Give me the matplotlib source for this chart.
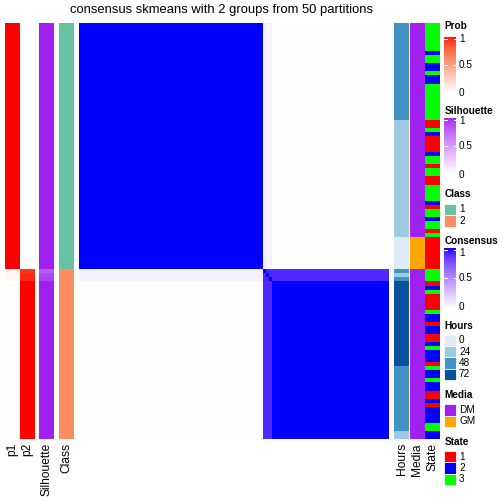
import numpy as np
import matplotlib
matplotlib.use("Agg")
import matplotlib.pyplot as plt
from matplotlib.colors import ListedColormap
from matplotlib.patches import Rectangle

plt.rcParams['font.family'] = ['Liberation Sans', 'DejaVu Sans']

# ---------------- data ----------------
title = "consensus skmeans with 2 groups from 50 partitions"

n_class1 = 61
n_class2 = 42
classes = [1] * n_class1 + [2] * n_class2

p1 = [1.0] * 61 + [0.08, 0.05, 0.05] + [0.0] * 39
p2 = [0.0] * 61 + [0.92, 0.95, 0.95] + [1.0] * 39
silhouette = [1.0] * 61 + [0.80, 0.88, 0.90] + [1.0] * 39

hours = ([48] * 24 + [24] * 29 + [0] * 8 +
         [48, 24, 48] + [72] * 21 + [48] * 16 + [24] * 2)
media = ["DM"] * 53 + ["GM"] * 8 + ["DM"] * 42

def runs(seq):
    out = []
    for v, k in seq:
        out += [v] * k
    return out

state = runs([(3, 7), (2, 1), (3, 2), (2, 2), (3, 1), (2, 2), (3, 9),
              (1, 2), (3, 1), (2, 1), (1, 4), (2, 1), (3, 2), (1, 1), (3, 2),
              (1, 2), (3, 4), (2, 1), (1, 1), (3, 2), (2, 1), (3, 2), (1, 1),
              (3, 1), (1, 8),
              (3, 3),
              (1, 1), (2, 1), (3, 1), (1, 4), (3, 1), (2, 2), (1, 1), (2, 2),
              (1, 2), (2, 1), (3, 1), (2, 3), (1, 1),
              (3, 1), (2, 2), (3, 1), (2, 2), (1, 2), (2, 1), (1, 1), (2, 4),
              (3, 2),
              (2, 2)])

# samples of class 2 with weaker consensus
uncertain_idx = [61, 62, 63]
cons_same = 1.0
cons_uncertain_other_class = 0.06
cons_uncertain_same_class = 0.90

legend_ticks = [0, 0.5, 1]
class_levels = [1, 2]
hours_levels = [0, 24, 48, 72]
media_levels = ["DM", "GM"]
state_levels = [1, 2, 3]

# ---------------- colours ----------------
def srgb_to_lab(rgb):
    rgb = np.asarray(rgb, float)
    lin = np.where(rgb <= 0.04045, rgb / 12.92, ((rgb + 0.055) / 1.055) ** 2.4)
    M = np.array([[0.4124564, 0.3575761, 0.1804375],
                  [0.2126729, 0.7151522, 0.0721750],
                  [0.0193339, 0.1191920, 0.9503041]])
    xyz = M @ lin / np.array([0.95047, 1.0, 1.08883])
    d = 6 / 29
    f = np.where(xyz > d ** 3, np.cbrt(xyz), xyz / (3 * d * d) + 4 / 29)
    return np.array([116 * f[1] - 16, 500 * (f[0] - f[1]), 200 * (f[1] - f[2])])

def lab_to_srgb(lab):
    L, a, b = lab
    fy = (L + 16) / 116
    fx = fy + a / 500
    fz = fy - b / 200
    d = 6 / 29
    finv = lambda t: t ** 3 if t > d else 3 * d * d * (t - 4 / 29)
    xyz = np.array([finv(fx), finv(fy), finv(fz)]) * np.array([0.95047, 1.0, 1.08883])
    Minv = np.array([[3.2404542, -1.5371385, -0.4985314],
                     [-0.9692660, 1.8760108, 0.0415560],
                     [0.0556434, -0.2040259, 1.0572252]])
    lin = np.clip(Minv @ xyz, 0, 1)
    rgb = np.where(lin <= 0.0031308, 12.92 * lin, 1.055 * lin ** (1 / 2.4) - 0.055)
    return np.clip(rgb, 0, 1)

def lab_cmap(c1, c2):
    from matplotlib.colors import to_rgb
    l1, l2 = srgb_to_lab(to_rgb(c1)), srgb_to_lab(to_rgb(c2))
    cols = [lab_to_srgb(l1 + (l2 - l1) * t) for t in np.linspace(0, 1, 256)]
    return ListedColormap(cols)

cmap_prob = lab_cmap("white", "#FF0000")
cmap_sil = lab_cmap("white", "#A020F0")
cmap_cons = lab_cmap("white", "#0000FF")

class_colors = {1: "#66C2A5", 2: "#FC8D62"}
hours_colors = {0: "#DEEBF7", 24: "#9ECAE1", 48: "#4292C6", 72: "#08519C"}
media_colors = {"DM": "#A020F0", "GM": "#FFA500"}
state_colors = {1: "#FF0000", 2: "#0000FF", 3: "#00FF00"}

# ---------------- consensus matrix ----------------
cls = np.array(classes)
cons = np.where(cls[:, None] == cls[None, :], cons_same, 0.0)
for u in uncertain_idx:
    other = cls != cls[u]
    same = cls == cls[u]
    cons[u, other] = cons_uncertain_other_class
    cons[other, u] = cons_uncertain_other_class
    cons[u, same] = cons_uncertain_same_class
    cons[same, u] = cons_uncertain_same_class
for u in uncertain_idx:
    cons[u, u] = cons_same

# ---------------- figure ----------------
W = H = 504
fig = plt.figure(figsize=(W / 72, H / 72), dpi=72)

def px_axes(x0, y0, x1, y1):
    ax = fig.add_axes([x0 / W, 1 - y1 / H, (x1 - x0) / W, (y1 - y0) / H])
    ax.set_axis_off()
    return ax

top, bot = 23, 439

def cont_col(x0, x1, vals, cmap):
    ax = px_axes(x0, top, x1, bot)
    ax.imshow(np.array(vals)[:, None], cmap=cmap, vmin=0, vmax=1,
              aspect="auto", interpolation="nearest")

def cat_col(x0, x1, vals, cmapping):
    from matplotlib.colors import to_rgb
    ax = px_axes(x0, top, x1, bot)
    img = np.array([to_rgb(cmapping[v]) for v in vals])[:, None, :]
    ax.imshow(img, aspect="auto", interpolation="nearest")

cont_col(5, 20, p1, cmap_prob)
cont_col(20, 34.5, p2, cmap_prob)
cont_col(39, 54, silhouette, cmap_sil)
cat_col(59, 74, classes, class_colors)

axc = px_axes(79, top, 389, bot)
axc.imshow(cons, cmap=cmap_cons, vmin=0, vmax=1, aspect="auto",
           interpolation="nearest")

cat_col(394, 409, hours, hours_colors)
cat_col(409.8, 424.3, media, media_colors)
cat_col(425, 439.5, state, state_colors)

# colour bar legends: name, title y, bar top, bar bottom, top label y
cbars = [("Prob", 26.3, 37, 92.5, 38.8, cmap_prob),
         ("Silhouette", 110.5, 118, 174.5, 121.5, cmap_sil),
         ("Consensus", 240.6, 248, 307.5, 252.8, cmap_cons)]
for name, ty, y0, y1, ly, cm in cbars:
    ax = px_axes(444, y0, 456, y1)
    ax.imshow(np.linspace(1, 0, 256)[:, None], cmap=cm, vmin=0, vmax=1,
              aspect="auto", interpolation="bilinear")

ov = fig.add_axes([0, 0, 1, 1])
ov.set_xlim(0, W)
ov.set_ylim(H, 0)
ov.set_axis_off()
ov.patch.set_alpha(0)

ov.text(221, 10.5, title, ha="center", va="center", fontsize=13)

for name, ty, y0, y1, ly, cm in cbars:
    ov.text(444.5, ty, name, ha="left", va="center", fontsize=10,
            fontweight="bold")
    for v in legend_ticks:
        yy = y1 - (y1 - y0) * v
        tyy = yy
        if v == 1:
            yy = y0 + 1.5
            tyy = ly
        ov.plot([444, 446.5], [yy, yy], color="white", lw=1)
        ov.plot([453.5, 456], [yy, yy], color="white", lw=1)
        lbl = "1" if v == 1 else ("0.5" if v == 0.5 else "0")
        ov.text(459, tyy, lbl, ha="left", va="center", fontsize=10)

gh = 11.4
disc = [("Class", 194.3, 203.8, class_levels, class_colors),
        ("Hours", 326, 334.5, hours_levels, hours_colors),
        ("Media", 395, 404.3, media_levels, media_colors),
        ("State", 441.7, 451, state_levels, state_colors)]
for name, ty, y0, levels, cmapping in disc:
    ov.text(444.5, ty, name, ha="left", va="center", fontsize=10,
            fontweight="bold")
    for k, lv in enumerate(levels):
        yy = y0 + k * gh
        ov.add_patch(Rectangle((444, yy), 12, gh, facecolor=cmapping[lv],
                               edgecolor="white", lw=0.8))
        ov.text(459, yy + gh / 2, str(lv), ha="left", va="center", fontsize=10)

# bottom column labels
bottom_labels = [("p1", 12.5), ("p2", 27.3), ("Silhouette", 46.5),
                 ("Class", 66.5), ("Hours", 401.5), ("Media", 417),
                 ("State", 432.3)]
for lab, x in bottom_labels:
    ov.text(x, 443, lab, rotation=90, ha="center", va="top", fontsize=12)

fig.savefig("out.png", dpi=72)
